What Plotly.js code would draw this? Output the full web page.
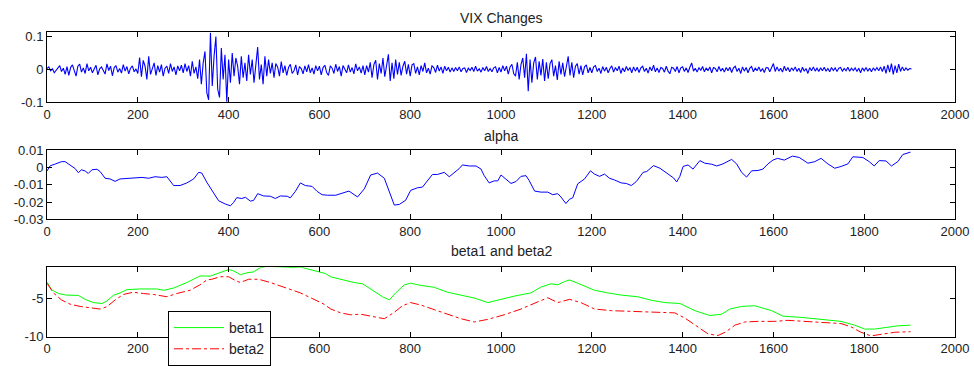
<!DOCTYPE html>
<html><head><meta charset="utf-8">
<script src="https://cdn.plot.ly/plotly-3.0.1.min.js"></script>
<style>html,body{margin:0;padding:0;background:#fff}#chart{width:974px;height:366px}</style>
</head><body><div id="chart"></div>
<script>
const vixStep = 4;
const vixValues = [
0.003,0.008,-0.004,0.002,-0.010,-0.003,0.006,0.012,-0.006,0.004,-0.015,0.009,-0.018,0.006,0.014,-0.002,-0.020,0.010,0.016,-0.008,0.005,-0.012,0.018,-0.004,0.007,
-0.010,0.004,0.013,-0.016,0.002,0.008,-0.006,-0.014,0.017,-0.003,0.010,-0.019,0.006,0.012,-0.008,0.003,-0.011,0.015,-0.005,0.009,-0.013,0.004,0.011,-0.007,0.002,
-0.012,0.036,-0.022,0.028,0.010,-0.030,0.040,-0.015,0.006,0.020,-0.018,0.012,-0.008,0.015,-0.020,0.004,0.010,-0.012,0.018,-0.006,0.008,-0.016,0.011,-0.004,0.013,
-0.010,0.018,-0.006,0.012,-0.020,0.025,-0.012,0.008,-0.028,0.030,-0.045,0.020,0.055,-0.070,-0.092,0.112,-0.050,0.040,0.100,-0.060,-0.085,0.065,-0.030,0.045,-0.098,
0.030,-0.040,0.050,-0.020,0.035,0.010,-0.045,0.040,-0.025,0.020,-0.035,0.045,-0.015,0.030,-0.040,0.025,0.068,-0.030,0.015,-0.045,0.040,-0.020,0.030,-0.012,0.020,
-0.025,0.018,0.008,-0.020,0.024,-0.010,0.012,-0.018,0.006,0.016,-0.012,-0.004,0.014,-0.016,0.009,0.003,-0.013,0.011,-0.007,0.015,-0.010,0.005,-0.014,0.012,-0.004,
0.010,-0.016,0.006,0.013,-0.009,-0.018,0.011,0.004,-0.012,0.016,-0.006,0.009,-0.020,0.012,0.003,-0.010,0.014,-0.008,0.006,-0.013,0.017,-0.004,0.008,-0.011,0.012,
-0.016,0.012,-0.008,0.022,-0.025,0.015,0.028,-0.030,0.018,-0.012,0.035,-0.022,0.008,0.046,-0.035,0.020,-0.028,0.030,-0.015,0.022,-0.018,0.010,0.025,-0.014,0.016,
-0.020,0.014,0.018,-0.012,0.008,-0.016,0.012,-0.006,0.020,-0.010,0.004,-0.014,0.011,0.006,-0.009,0.013,-0.005,0.008,-0.012,0.010,-0.004,0.007,-0.008,0.005,-0.006,
0.006,-0.004,0.008,-0.007,0.003,0.005,-0.009,0.004,-0.003,0.007,-0.006,0.010,-0.005,0.002,-0.008,0.006,-0.004,0.009,-0.006,0.003,-0.007,0.005,0.008,-0.010,0.006,
-0.008,0.012,-0.004,0.010,-0.014,0.008,0.016,-0.012,-0.020,0.022,-0.030,0.015,0.035,-0.025,0.048,-0.066,0.030,-0.040,0.020,0.038,-0.030,0.025,-0.018,0.032,-0.035,
0.022,-0.028,0.018,0.030,-0.020,0.012,-0.032,0.025,-0.015,0.020,-0.022,0.015,0.040,-0.018,0.022,-0.025,0.010,0.018,-0.014,0.012,-0.016,0.008,0.014,-0.010,0.006,
-0.010,0.008,0.012,-0.006,0.004,-0.012,0.009,-0.005,0.007,-0.010,0.003,0.011,-0.008,0.006,-0.004,0.010,-0.012,0.005,-0.007,0.009,-0.003,0.006,-0.010,0.008,-0.005,
0.007,-0.009,0.005,0.010,-0.006,0.004,-0.011,0.008,-0.004,0.013,-0.007,0.005,-0.009,0.006,0.003,-0.008,0.010,-0.005,-0.013,0.007,0.004,-0.006,0.009,-0.010,0.005,
0.008,-0.006,0.005,-0.009,0.007,0.020,-0.005,0.004,-0.008,0.006,-0.003,0.009,-0.007,0.005,-0.004,0.008,-0.010,0.006,0.003,-0.007,0.009,-0.005,0.004,-0.008,0.006,
-0.004,0.007,-0.009,0.005,0.010,-0.006,0.004,-0.012,0.008,-0.005,0.006,-0.010,0.004,0.009,-0.007,0.005,-0.004,0.008,-0.006,0.003,-0.009,0.006,0.005,-0.007,0.004,
0.018,-0.006,0.008,-0.005,0.004,-0.008,0.010,-0.004,0.006,-0.007,0.005,-0.003,0.008,-0.006,0.004,-0.009,0.007,-0.005,0.003,-0.012,0.006,-0.004,0.008,-0.005,0.004,
-0.006,0.005,-0.004,0.007,-0.005,0.003,-0.007,0.006,-0.003,0.005,-0.006,0.004,0.006,-0.005,0.003,-0.004,0.007,-0.005,0.004,-0.003,0.005,-0.006,0.004,-0.010,0.005,
-0.004,0.006,-0.005,0.004,-0.007,0.005,-0.003,0.006,-0.004,0.008,-0.006,0.010,-0.012,0.014,-0.008,0.018,-0.015,0.012,-0.010,0.016,-0.006,0.008,-0.004,0.005,-0.002,
0.003,0.002
];
const vixX = vixValues.map((v, i) => i * vixStep);

const alphaX = [0,7,18,32,40,51,62,69,76,84,91,99,110,117,128,139,150,161,176,190,209,224,238,253,264,279,293,308,323,334,341,352,367,378,393,404,411,418,429,437,448,455,464,477,492,503,514,529,536,547,558,569,584,595,606,618,636,651,665,684,699,713,728,743,754,765,776,790,801,816,827,838,849,860,875,886,897,908,915,930,945,956,963,974,985,993,1000,1011,1022,1033,1044,1055,1062,1074,1088,1103,1114,1125,1132,1143,1151,1158,1169,1184,1197,1206,1217,1228,1239,1250,1265,1276,1287,1298,1313,1321,1336,1350,1365,1380,1387,1394,1401,1412,1423,1438,1449,1464,1475,1489,1508,1519,1530,1541,1552,1566,1577,1588,1599,1609,1624,1642,1657,1676,1691,1705,1720,1735,1749,1764,1775,1797,1811,1822,1833,1848,1860,1874,1885,1902];
const alphaY = [-0.002,0.001,0.002,0.0034,0.0034,0.0013,-0.0006,-0.003,-0.0013,-0.002,-0.0034,-0.0013,-0.001,-0.0023,-0.0062,-0.0066,-0.008,-0.0066,-0.0062,-0.0062,-0.0057,-0.0062,-0.0053,-0.0057,-0.0053,-0.0104,-0.0104,-0.0089,-0.0066,-0.0028,-0.0032,-0.0085,-0.0151,-0.0192,-0.0211,-0.0221,-0.0202,-0.0174,-0.0179,-0.0172,-0.0194,-0.019,-0.0151,-0.0164,-0.0166,-0.0179,-0.0164,-0.0166,-0.0175,-0.0138,-0.0089,-0.0104,-0.0109,-0.0138,-0.0157,-0.016,-0.016,-0.0147,-0.0136,-0.017,-0.0123,-0.0043,-0.0032,-0.0062,-0.0142,-0.0217,-0.0213,-0.0189,-0.0132,-0.0117,-0.0113,-0.0075,-0.004,-0.004,-0.0028,-0.0053,-0.0032,-0.0006,0.0015,0.0009,0.0009,-0.0009,-0.0047,-0.0089,-0.0077,-0.0077,-0.0043,-0.0066,-0.0092,-0.0081,-0.0051,-0.0047,-0.0075,-0.0136,-0.0142,-0.0142,-0.0157,-0.0151,-0.017,-0.0208,-0.0183,-0.0175,-0.0094,-0.0066,-0.0019,-0.0038,-0.0051,-0.0038,-0.0062,-0.0072,-0.0089,-0.0092,-0.0104,-0.0081,-0.0028,-0.0023,0.0011,-0.0004,-0.0032,-0.006,-0.0083,-0.0051,0.0006,0.0015,-0.0009,0.004,0.0025,0.0019,0.0009,0.0021,0.0047,0.0021,-0.0028,-0.0055,-0.0019,-0.0017,-0.0009,0.0021,0.0043,0.0053,0.0043,0.0066,0.0058,0.0025,0.0034,0.0053,0.0021,-0.0004,0.0006,0.0021,0.0062,0.0058,0.0034,0.0009,0.004,0.0038,0.0009,0.0034,0.0075,0.0089];

const beta1X = [0,10,25,43,69,84,102,121,132,146,161,176,205,242,257,279,308,337,360,382,400,411,426,440,455,470,485,521,543,558,588,613,624,647,676,695,721,739,754,768,787,801,824,853,882,912,941,971,993,1029,1066,1088,1110,1125,1140,1151,1169,1206,1235,1265,1301,1331,1361,1394,1427,1460,1486,1504,1530,1559,1596,1621,1662,1705,1749,1779,1801,1823,1852,1874,1902];
const beta1Y = [-2.94,-3.91,-4.41,-4.62,-4.66,-5.17,-5.59,-5.71,-5.38,-4.66,-4.33,-3.91,-3.82,-3.82,-3.99,-3.7,-2.98,-2.14,-2.14,-1.72,-1.3,-1.47,-1.97,-1.72,-1.6,-1.05,-0.88,-0.97,-1.05,-0.97,-1.39,-1.81,-2.23,-2.56,-2.98,-3.15,-4.12,-4.83,-5.25,-4.33,-3.28,-3.07,-3.36,-3.61,-4.24,-4.62,-5.0,-5.59,-5.25,-4.75,-4.33,-3.57,-3.15,-3.28,-2.86,-2.65,-3.07,-3.99,-4.33,-4.62,-4.83,-5.29,-5.59,-5.71,-6.64,-7.27,-7.1,-6.43,-6.09,-6.0,-6.64,-7.35,-7.52,-7.82,-8.03,-8.53,-9.03,-9.03,-8.82,-8.61,-8.53];

const beta2X = [0,14,32,51,73,95,117,132,150,168,190,212,235,264,286,315,337,352,363,382,400,415,426,444,466,492,521,558,588,610,625,647,669,691,713,743,765,783,801,824,853,882,912,941,971,1007,1044,1081,1103,1125,1151,1176,1206,1243,1279,1331,1347,1383,1405,1434,1456,1478,1496,1515,1537,1566,1603,1632,1676,1713,1749,1771,1793,1815,1837,1867,1902];
const beta2Y = [-3.07,-4.33,-5.25,-5.8,-6.09,-6.22,-6.43,-6.13,-5.25,-4.54,-4.24,-4.41,-4.54,-4.83,-4.41,-3.99,-3.28,-2.65,-2.56,-2.23,-2.23,-2.73,-2.98,-2.56,-2.56,-2.98,-3.57,-4.33,-5.17,-5.8,-6.43,-6.93,-7.18,-7.1,-7.35,-7.69,-6.85,-6.0,-5.59,-5.92,-6.51,-7.06,-7.69,-8.11,-7.77,-7.18,-6.43,-5.5,-4.96,-5.59,-5.17,-5.59,-6.43,-6.64,-6.72,-6.85,-6.93,-6.93,-7.6,-8.74,-9.66,-9.87,-9.37,-8.53,-8.11,-8.03,-8.03,-7.9,-8.03,-8.19,-8.32,-8.74,-9.45,-9.92,-9.71,-9.45,-9.37];

const titles = ["VIX Changes", "alpha", "beta1 and beta2"];
const xTicks = [0,200,400,600,800,1000,1200,1400,1600,1800,2000];
const xLabels = xTicks.map(String);
// the third panel's "400" label lies under the legend box in the reference
const xLabels3 = xLabels.map(t => (t === "400" ? "" : t));
const y1Ticks = [-0.1, 0, 0.1], y1Labels = ["-0.1", "0", "0.1"];
const y2Ticks = [-0.03,-0.02,-0.01,0,0.01], y2Labels = ["-0.03","-0.02","-0.01","0","0.01"];
const y3Ticks = [-10,-5], y3Labels = ["-10","-5"];

const W = 974, H = 366;
const font = {family: "Liberation Sans, Arial, sans-serif", size: 13, color: "#222"};
const bigFont = {family: "Liberation Sans, Arial, sans-serif", size: 14, color: "#222"};
const xDom = [47 / W, 955 / W];
function dom(top, bottom) { return [1 - bottom / H, 1 - top / H]; }
function xax(anchor, labels) {
  return {domain: xDom, anchor: anchor, range: [0, 2000], tickvals: xTicks, ticktext: labels,
    ticks: "inside", ticklen: 5, tickcolor: "#000", showline: true, linecolor: "#000", linewidth: 1,
    mirror: "ticks", showgrid: false, zeroline: false, tickfont: font, fixedrange: true};
}
function yax(anchor, d, range, tv, tt) {
  return {domain: d, anchor: anchor, range: range, tickvals: tv, ticktext: tt,
    ticks: "inside", ticklen: 5, tickcolor: "#000", showline: true, linecolor: "#000", linewidth: 1,
    mirror: "ticks", showgrid: false, zeroline: false, tickfont: font, fixedrange: true};
}

const traces = [
  {x: vixX, y: vixValues, type: "scatter", mode: "lines", line: {color: "#0000ff", width: 1.1}, xaxis: "x", yaxis: "y", showlegend: false},
  {x: alphaX, y: alphaY, type: "scatter", mode: "lines", line: {color: "#0000ff", width: 1}, xaxis: "x2", yaxis: "y2", showlegend: false},
  {x: beta1X, y: beta1Y, type: "scatter", mode: "lines", name: "beta1", line: {color: "#00ff00", width: 1}, xaxis: "x3", yaxis: "y3"},
  {x: beta2X, y: beta2Y, type: "scatter", mode: "lines", name: "beta2", line: {color: "#ff0000", width: 1, dash: "dashdot"}, xaxis: "x3", yaxis: "y3"}
];

const layout = {
  width: W, height: H, margin: {l: 0, r: 0, t: 0, b: 0},
  paper_bgcolor: "#fff", plot_bgcolor: "#fff", font: font,
  xaxis: xax("y", xLabels), yaxis: yax("x", dom(33, 105), [-0.1, 0.1134], y1Ticks, y1Labels),
  xaxis2: xax("y2", xLabels), yaxis2: yax("x2", dom(154, 225), [-0.03, 0.01], y2Ticks, y2Labels),
  xaxis3: xax("y3", xLabels3), yaxis3: yax("x3", dom(274, 345), [-10, -1], y3Ticks, y3Labels),
  showlegend: true,
  legend: {x: 168 / W, y: 1 - 319 / H, xanchor: "left", yanchor: "top", bgcolor: "#fff",
    bordercolor: "#000", borderwidth: 1, font: bigFont, itemwidth: 50, tracegroupgap: 0},
  annotations: [
    {text: titles[0], x: 501 / W, y: 1 - 18 / H, xref: "paper", yref: "paper", yanchor: "middle", showarrow: false, font: bigFont},
    {text: titles[1], x: 501 / W, y: 1 - 139.5 / H, xref: "paper", yref: "paper", yanchor: "middle", showarrow: false, font: bigFont},
    {text: titles[2], x: 501 / W, y: 1 - 257.5 / H, xref: "paper", yref: "paper", yanchor: "middle", showarrow: false, font: bigFont}
  ]
};
Plotly.newPlot("chart", traces, layout, {staticPlot: true, displayModeBar: false});
</script></body></html>
